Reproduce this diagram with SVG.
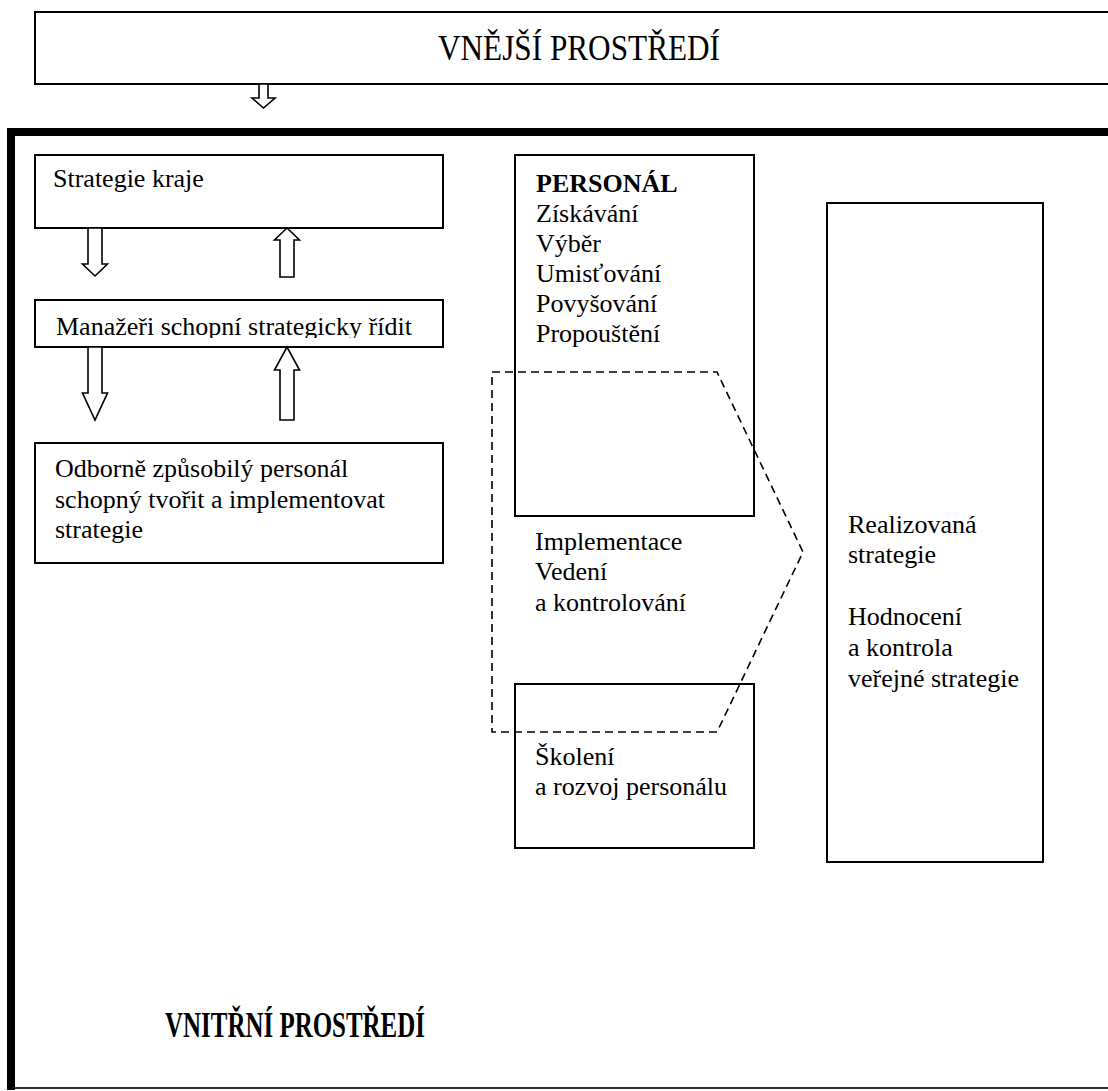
<svg xmlns="http://www.w3.org/2000/svg" width="1108" height="1091" viewBox="0 0 1108 1091">
<style>
.box{fill:#fff;stroke:#000;stroke-width:2}
.arr{fill:#fff;stroke:#000;stroke-width:1.6;stroke-linejoin:miter}
.t{font-family:"Liberation Serif","Times New Roman",serif;font-size:26px;fill:#000}
.b{font-weight:bold}
.dash{fill:none;stroke:#000;stroke-width:1.6;stroke-dasharray:8 5}
</style>
<defs>
<clipPath id="clipMan"><rect x="35" y="300" width="408" height="38"/></clipPath>
</defs>
<rect width="1108" height="1091" fill="#fff"/>

<g id="vnejsi">
<rect class="box" x="35" y="12" width="1100" height="72"/>
<text class="t" x="579" y="60" text-anchor="middle" style="font-size:36px" textLength="282" lengthAdjust="spacingAndGlyphs">VNĚJŠÍ PROSTŘEDÍ</text>
</g>

<g id="vnitrni">
<rect x="7" y="128" width="1110" height="8" fill="#000"/>
<rect x="7" y="128" width="8" height="962" fill="#000"/>
<line x1="15" y1="1088" x2="1108" y2="1088" stroke="#333" stroke-width="2"/>
<text class="t b" x="295" y="1037" text-anchor="middle" style="font-size:36px" textLength="260" lengthAdjust="spacingAndGlyphs">VNITŘNÍ PROSTŘEDÍ</text>
</g>

<g id="strategie-kraje">
<rect class="box" x="35" y="155" width="408" height="73"/>
<text class="t" x="53" y="187">Strategie kraje</text>
</g>

<g id="manazeri">
<rect class="box" x="35" y="300" width="408" height="47"/>
<text class="t" x="56" y="335" clip-path="url(#clipMan)">Manažeři schopní strategicky řídit</text>
</g>

<g id="odborne">
<rect class="box" x="35" y="443" width="408" height="120"/>
<text class="t" x="55" y="477">Odborně způsobilý personál</text>
<text class="t" x="55" y="508">schopný tvořit a implementovat</text>
<text class="t" x="55" y="538">strategie</text>
</g>

<g id="personal">
<rect class="box" x="515" y="155" width="239" height="361"/>
<text class="t b" x="536" y="192">PERSONÁL</text>
<text class="t" x="536" y="222">Získávání</text>
<text class="t" x="536" y="252">Výběr</text>
<text class="t" x="536" y="282">Umisťování</text>
<text class="t" x="536" y="312">Povyšování</text>
<text class="t" x="536" y="342">Propouštění</text>
</g>

<g id="implementace">
<text class="t" x="535" y="550">Implementace</text>
<text class="t" x="535" y="580">Vedení</text>
<text class="t" x="535" y="611">a kontrolování</text>
</g>

<g id="skoleni">
<rect class="box" x="515" y="684" width="239" height="164"/>
<text class="t" x="535" y="765">Školení</text>
<text class="t" x="535" y="795">a rozvoj personálu</text>
</g>

<g id="realizovana">
<rect class="box" x="827" y="203" width="216" height="659"/>
<text class="t" x="848" y="533">Realizovaná</text>
<text class="t" x="848" y="563">strategie</text>
<text class="t" x="848" y="625">Hodnocení</text>
<text class="t" x="848" y="656">a kontrola</text>
<text class="t" x="848" y="687">veřejné strategie</text>
</g>

<g id="connectors">
<polygon class="arr" points="259,84 268,84 268,98 275,98 263.5,108 252,98 259,98"/>
<polygon class="arr" points="88,228 102,228 102,264 107.5,264 95,276 82.5,264 88,264"/>
<polygon class="arr" points="280,277 294,277 294,240 299.5,240 287,228 274.5,240 280,240"/>
<polygon class="arr" points="88,347 102,347 102,393 107.5,393 95,420 82.5,393 88,393"/>
<polygon class="arr" points="280,420 294,420 294,370 299.5,370 287,347 274.5,370 280,370"/>
<polygon class="dash" points="492,372 717,372 803,552 717,732 492,732"/>
</g>
</svg>
